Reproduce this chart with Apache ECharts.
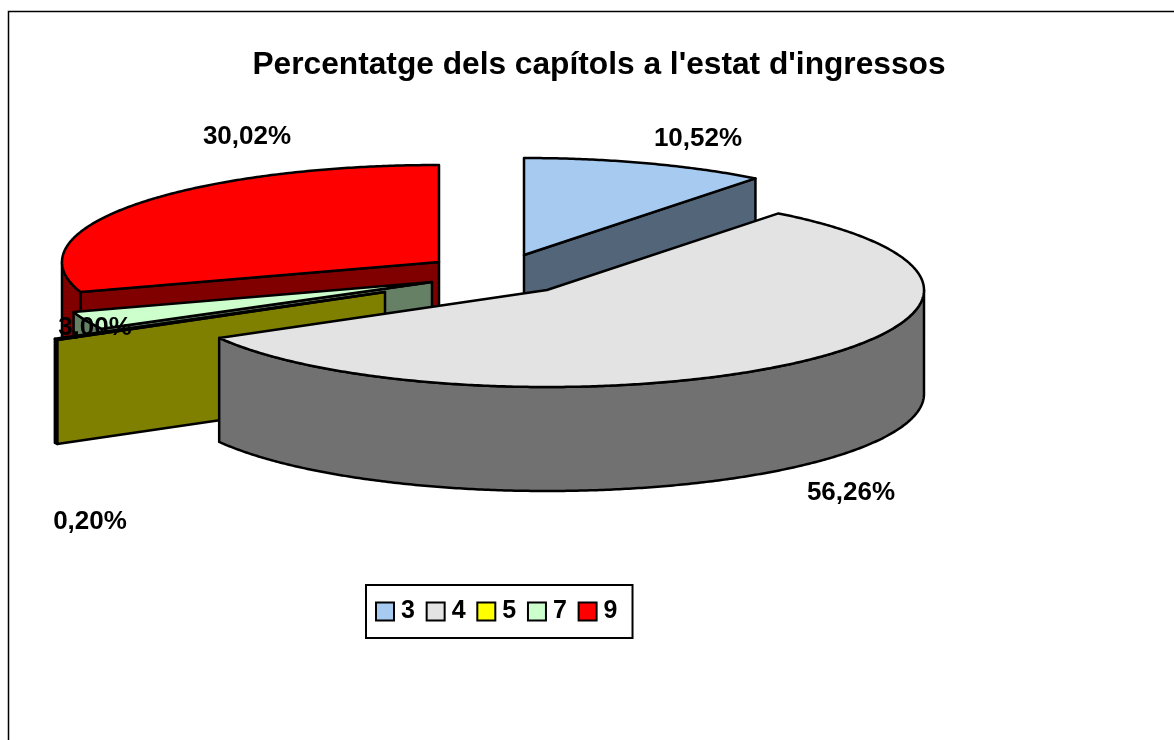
<!DOCTYPE html>
<html>
<head>
<meta charset="utf-8">
<style>
  html, body { margin: 0; padding: 0; background: #fff; }
  #chart { width: 1174px; height: 740px; }
</style>
</head>
<body>
<div id="chart"></div>
<script src="https://cdn.jsdelivr.net/npm/echarts@6/dist/echarts.min.js"></script>
<script>
// chart data
var categories = ['3', '4', '5', '7', '9'];
var percents = [10.52, 56.26, 0.20, 3.00, 30.02];

// look and layout
var colors = ['#A6CAF0', '#E3E3E3', '#FFFF00', '#CCFFCC', '#FF0000'];
var sideColors = ['#536578', '#717171', '#808000', '#668066', '#800000'];
var apexes = [[524, 255], [547, 290], [385, 292], [432, 282], [439, 262]];
var labelSpots = [[698, 139], [851, 493], [90, 522], [95, 328], [247, 137]];
var drawOrder = [0, 4, 3, 2, 1]; // back slices first
var RX = 377, RY = 97, DEPTH = 104;
var FONT = '"Liberation Sans", Arial, sans-serif';

// angle in degrees clockwise from the top, squashed to an ellipse
function rimPoint(apex, deg, drop) {
  var r = deg * Math.PI / 180;
  return [apex[0] + RX * Math.sin(r), apex[1] - RY * Math.cos(r) + (drop || 0)];
}

function arc(apex, from, to, drop) {
  var pts = [];
  var steps = Math.max(2, Math.ceil((to - from) * 2));
  for (var i = 0; i <= steps; i++) {
    pts.push(rimPoint(apex, from + (to - from) * i / steps, drop));
  }
  return pts;
}

function face(points, fill) {
  return {
    type: 'polygon',
    shape: { points: points },
    style: { fill: fill, stroke: '#000', lineWidth: 2.5, lineJoin: 'round' }
  };
}

function sliceItem(idx) {
  return function (params, api) {
    var start = 0;
    for (var i = 0; i < idx; i++) start += percents[i];
    var a = start * 3.6;
    var b = a + api.value(0) * 3.6;
    var apex = apexes[idx];
    var side = sideColors[idx];
    var kids = [];
    var low = [apex[0], apex[1] + DEPTH];

    // cut faces that look to the front
    if (a > 180 && a < 360) {
      var p = rimPoint(apex, a);
      kids.push(face([apex, p, [p[0], p[1] + DEPTH], low], side));
    }
    if (b > 0 && b < 180) {
      var q = rimPoint(apex, b);
      kids.push(face([apex, q, [q[0], q[1] + DEPTH], low], side));
    }
    // outer wall, only the front half of the rim shows
    var f = Math.max(a, 90), t = Math.min(b, 270);
    if (t > f) {
      kids.push(face(arc(apex, f, t, 0).concat(arc(apex, f, t, DEPTH).reverse()), side));
    }
    // top
    kids.push(face([apex].concat(arc(apex, a, b, 0)), colors[idx]));
    return { type: 'group', children: kids };
  };
}

var series = drawOrder.map(function (idx, n) {
  return {
    type: 'custom',
    name: categories[idx],
    coordinateSystem: 'none',
    z: 2 + n,
    silent: true,
    animation: false,
    itemStyle: { color: colors[idx], borderColor: '#000', borderWidth: 2 },
    data: [percents[idx]],
    renderItem: sliceItem(idx)
  };
});

// percent labels sit above every slice
series.push({
  type: 'custom',
  coordinateSystem: 'none',
  z: 20,
  silent: true,
  animation: false,
  data: percents,
  renderItem: function (params, api) {
    var spot = labelSpots[params.dataIndex];
    return {
      type: 'text',
      x: spot[0],
      y: spot[1],
      style: {
        text: api.value(0).toFixed(2).replace('.', ',') + '%',
        font: 'bold 26px ' + FONT,
        fill: '#000',
        align: 'center',
        verticalAlign: 'middle'
      }
    };
  }
});

var chart = echarts.init(document.getElementById('chart'), null, { renderer: 'canvas' });
chart.setOption({
  backgroundColor: '#fff',
  animation: false,
  title: {
    text: "Percentatge dels capítols a l'estat d'ingressos",
    left: 594,
    textAlign: 'center',
    top: 44,
    textStyle: { fontFamily: FONT, fontWeight: 'bold', fontSize: 31.7, color: '#000' }
  },
  legend: {
    data: categories,
    left: 366,
    top: 585,
    orient: 'horizontal',
    itemWidth: 18,
    itemHeight: 18,
    itemGap: 10.75,
    padding: [14, 15, 14, 9],
    borderColor: '#000',
    borderWidth: 2,
    backgroundColor: '#fff',
    icon: 'rect',
    selectedMode: false,
    textStyle: { fontFamily: FONT, fontWeight: 'bold', fontSize: 25, color: '#000', padding: [2, 0, 0, 2] }
  },
  graphic: [{
    type: 'polyline',
    shape: { points: [[8.5, 740], [8.5, 11.5], [1174, 11.5]] },
    style: { stroke: '#000', lineWidth: 1.5, fill: null }
  }],
  series: series
});
</script>
</body>
</html>
